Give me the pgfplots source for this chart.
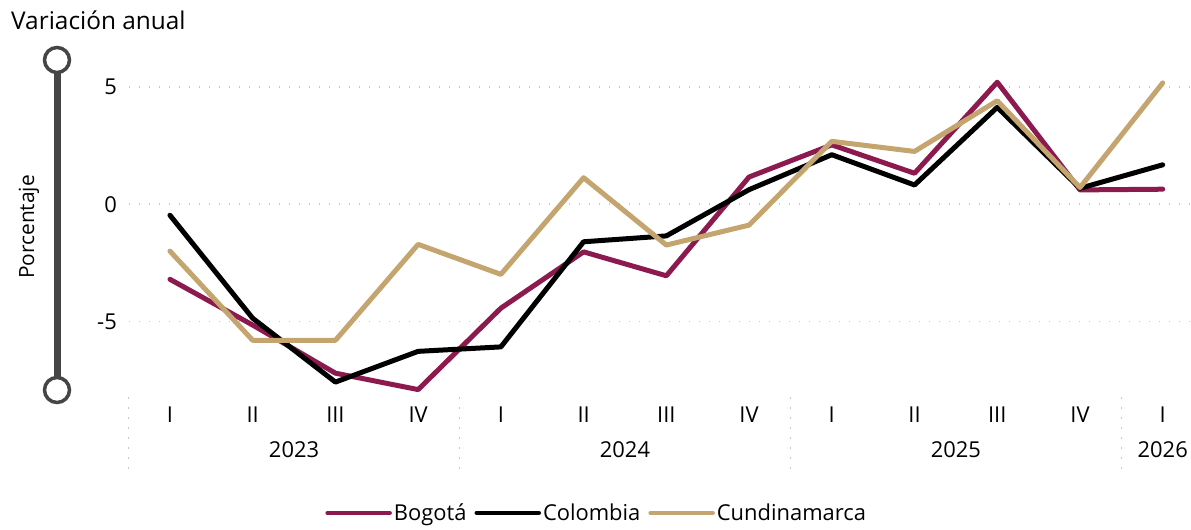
\documentclass[border=0pt]{standalone}
\usepackage{fontspec}
\setmainfont{Open Sans}
\usepackage{pgfplots}
\pgfplotsset{compat=1.18}
\definecolor{bog}{HTML}{8C1A4F}
\definecolor{cun}{HTML}{C4A46F}
\definecolor{gridc}{HTML}{C8C8C8}
\definecolor{slider}{HTML}{454545}
\tikzset{dotgrid/.style={gridc, line width=1.6bp, dash pattern=on 1.6bp off 8.4bp}}
\begin{document}
\begin{tikzpicture}[x=1bp,y=1bp]
\path[use as bounding box] (0,0) rectangle (1191,530);
\begin{axis}[
  at={(128.6bp,135bp)}, anchor=south west,
  scale only axis, width=1061.4bp, height=340bp,
  xmin=-0.5, xmax=12.33, ymin=-8.13, ymax=6.36,
  axis line style={draw=none},
  major tick length=0pt,
  xtick={0,...,12},
  xticklabels={I,II,III,IV,I,II,III,IV,I,II,III,IV,I},
  ytick={-5,0,5},
  ymajorgrids, grid style={dotgrid},
  tick label style={font=\fontsize{22}{26}\selectfont, inner sep=0pt},
  /pgf/number format/assume math mode=true,
  yticklabel style={anchor=base east, xshift=-11.6bp, yshift=-8bp},
  xticklabel style={anchor=base, yshift=-28bp},
  clip=false,
  legend columns=3,
  legend style={at={(0.441,-0.347)}, anchor=center, draw=none, fill=none,
    font=\fontsize{22}{26}\selectfont, inner sep=0pt,
    nodes={inner sep=2bp},
    /tikz/every even column/.append style={column sep=6bp}},
  legend image code/.code={\draw[#1, line width=4.5bp] (0bp,0bp) -- (62bp,0bp);},
  every axis plot/.append style={line width=5bp, line join=round, line cap=round},
]
\addplot[bog] coordinates {(0,-3.2) (1,-5.15) (2,-7.2) (3,-7.9) (4,-4.43) (5,-2.03) (6,-3.05) (7,1.16) (8,2.53) (9,1.32) (10,5.2) (11,0.61) (12,0.64)};
\addlegendentry{Bogotá}
\addplot[black] coordinates {(0,-0.47) (1,-4.86) (2,-7.58) (3,-6.27) (4,-6.08) (5,-1.6) (6,-1.35) (7,0.62) (8,2.11) (9,0.82) (10,4.13) (11,0.68) (12,1.68)};
\addlegendentry{Colombia}
\addplot[cun] coordinates {(0,-2.0) (1,-5.8) (2,-5.8) (3,-1.71) (4,-2.99) (5,1.13) (6,-1.74) (7,-0.89) (8,2.68) (9,2.25) (10,4.41) (11,0.71) (12,5.17)};
\addlegendentry{Cundinamarca}
\foreach \xx in {-0.5,3.5,7.5,11.5}{
  \edef\tmp{\noexpand\draw[dotgrid] ([yshift=-2bp]axis cs:\xx,-8.13) -- ([yshift=-75bp]axis cs:\xx,-8.13);}\tmp
}
\foreach \xx/\yr in {1.5/2023,5.5/2024,9.5/2025,12/2026}{
  \edef\tmp{\noexpand\node[anchor=base, font=\noexpand\fontsize{22}{26}\noexpand\selectfont, inner sep=0pt] at ([yshift=-63bp]axis cs:\xx,-8.13) {\yr};}\tmp
}
\end{axis}
% slider decoration
\fill[slider] (53.5,140) rectangle (60.5,470);
\draw[slider, line width=3.5bp, fill=white] (57,470) circle (12.5);
\draw[slider, line width=3.5bp, fill=white] (57,140) circle (12.5);
\node[rotate=90, font=\fontsize{21}{25}\selectfont, inner sep=0pt] at (29,303) {Porcentaje};
\node[anchor=base west, font=\fontsize{24.5}{29}\selectfont, inner sep=0pt] at (11,500) {Variación anual};
\end{tikzpicture}
\end{document}
